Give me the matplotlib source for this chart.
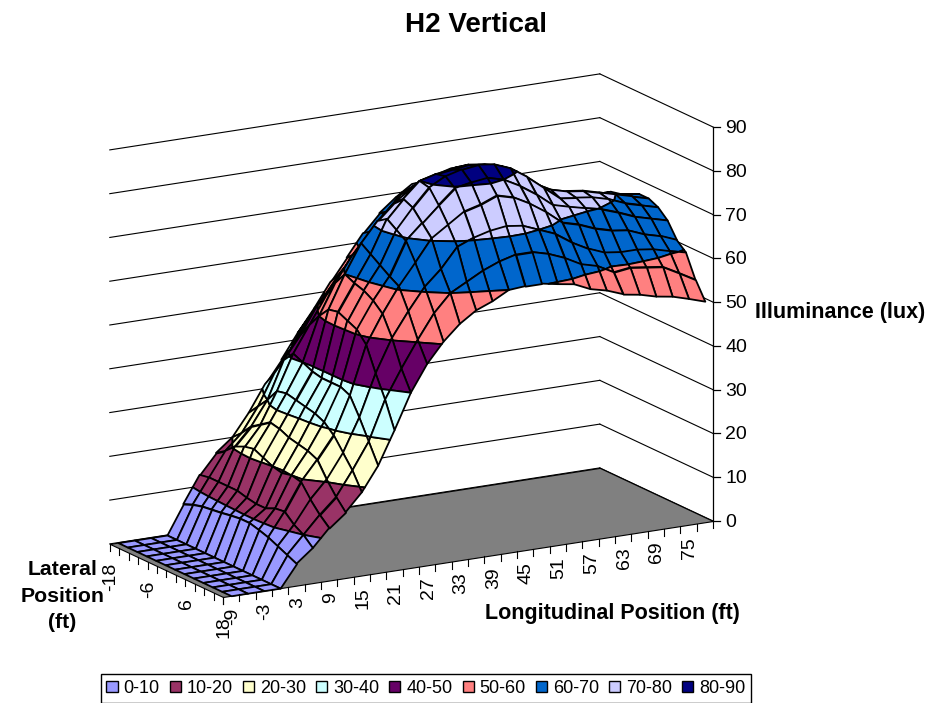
import matplotlib
matplotlib.use('Agg')
import matplotlib.pyplot as plt
from matplotlib.lines import Line2D
from matplotlib.patches import Patch
from mpl_toolkits.mplot3d import proj3d
from mpl_toolkits.mplot3d.art3d import Poly3DCollection
import numpy as np

plt.rcParams['font.family'] = ['Liberation Sans', 'DejaVu Sans']

long_pos = [-9, -6, -3, 0, 3, 6, 9, 12, 15, 18, 21, 24, 27, 30, 33, 36, 39, 42, 45, 48, 51, 54, 57, 60, 63, 66, 69, 72, 75, 78]
lat_pos = [18, 15, 12, 9, 6, 3, 0, -3, -6, -9, -12, -15, -18]
z_ticks = [0, 10, 20, 30, 40, 50, 60, 70, 80, 90]
band_labels = ['0-10', '10-20', '20-30', '30-40', '40-50', '50-60', '60-70', '70-80', '80-90']
band_colors = ['#9999FF', '#993366', '#FFFFCC', '#CCFFFF', '#660066', '#FF8080', '#0066CC', '#CCCCFF', '#000080']

# one row per longitudinal position, columns follow lat_pos
illuminance = [
    [0, 0, 0, 0, 0, 0, 0, 0, 0, 0, 0, 0, 0],
    [0, 0, 0, 0, 0, 0, 0, 0, 0, 0, 0, 0, 0],
    [0, 0, 0, 0, 0, 0, 0, 0, 0, 0, 0, 0, 0],
    [0, 0, 0, 0, 0, 0, 0, 0, 0, 0, 0, 0, 0],
    [5, 6, 7, 8, 8.7, 9.3, 9.3, 9, 8.6, 8.3, 8, 7.4, 6.5],
    [8, 10, 11.3, 13.3, 13, 12, 12, 12.4, 13, 13, 13, 13, 12.6],
    [12, 14, 16.5, 19.5, 20, 19.5, 20, 21, 22, 21.5, 20.5, 18.5, 17],
    [15, 17.5, 20.5, 24, 25, 25.5, 26, 27, 27.5, 26, 24.5, 22, 20],
    [19, 23, 26, 29, 31, 32, 32.5, 33, 33.5, 33, 30, 27.5, 25],
    [24.5, 29, 33.5, 37.5, 38.5, 38.5, 38.5, 39, 40, 41, 38.5, 34.5, 31],
    [32, 38, 43, 48.5, 51, 52, 53, 52.5, 50, 47, 43.5, 39.5, 36],
    [40, 44.5, 50.5, 55, 57, 58.3, 59, 60, 57, 53, 49.5, 45.5, 41.5],
    [46, 50.5, 56, 60.7, 62, 63.5, 65, 66.5, 62.5, 58, 54, 50, 46.5],
    [50.5, 56, 61, 65.5, 69.5, 71, 72.5, 71, 66.5, 62.5, 58.5, 55, 52],
    [54, 60, 64.5, 70.5, 73, 75.5, 76.5, 74.5, 71, 67, 62.5, 59, 57],
    [56.5, 62, 69, 73, 76.5, 79.5, 80, 77, 75, 71, 67, 63.5, 62],
    [58, 64, 70.5, 75.5, 79.8, 81.5, 81, 78.5, 77, 74.5, 71, 67.5, 66],
    [60, 65.5, 71.5, 76.5, 80.5, 82.5, 81.5, 79.5, 78, 76, 73.5, 70, 69],
    [60.3, 66.5, 72, 78, 81, 83, 82, 80.5, 79, 77, 75, 73, 71.5],
    [60.3, 66.5, 71.5, 77, 80, 82.5, 81.5, 80, 78.5, 76.5, 75, 73.5, 72],
    [59.6, 65.5, 70, 75, 78, 81, 80.5, 78.5, 76.5, 75, 74, 73, 72],
    [59, 64, 68.5, 72.5, 75.5, 78.5, 78, 76, 74.5, 73, 72.5, 72, 71.5],
    [57.3, 62, 66, 69.5, 72.5, 75.5, 75.5, 74, 72.5, 71.5, 71, 70.5, 70],
    [56.4, 61, 64, 68.5, 71.5, 72.5, 73.5, 72, 71, 70, 69, 68.5, 68.5],
    [55, 59, 62.5, 67, 70.6, 72, 72.5, 70.5, 69.5, 68.5, 67.5, 67, 68],
    [54.4, 59.5, 62, 66, 69.8, 71.5, 72, 70, 69, 68, 67, 66, 66],
    [53.4, 59, 62, 65.5, 68.5, 70.5, 71, 69.5, 68.5, 67.5, 66.5, 65.5, 65],
    [52.8, 58.5, 61.5, 64, 67, 69, 70, 69, 68, 67, 66, 65, 64],
    [51.7, 56.5, 60.5, 63, 66, 68, 69, 68.5, 67.5, 66.5, 65.5, 64.5, 63.5],
    [50.5, 54.4, 59.6, 61.5, 65, 67, 68, 68, 67, 66, 65.5, 64, 63],
]

W, H = 947, 703
fig = plt.figure(figsize=(W / 100, H / 100), dpi=100)
ax = fig.add_axes([0, 0, 1, 1], projection='3d', computed_zorder=False)
ax.set_axis_off()
ax.set_proj_type('ortho')
ax.view_init(elev=15.65, azim=-119.9)
ax.set_box_aspect((565, 227, 409))

step = long_pos[1] - long_pos[0]
x0, x1 = long_pos[0] - step / 2, long_pos[-1] + step / 2
y_front, y_back = lat_pos[0], lat_pos[-1]
ax.set_xlim(x0, x1)
ax.set_ylim(y_front, y_back)
ax.set_zlim(0, z_ticks[-1])


def screen(x, y, z):
    xp, yp, _ = proj3d.proj_transform(x, y, z, ax.get_proj())
    return ax.transData.transform((xp, yp))


# move the axes so the floor lands where the original has it
fig.canvas.draw()
a, b = screen(x0, y_front, 0), screen(x1, y_front, 0)
side = (713 - 223) / (b[0] - a[0]) * 703
ax.set_position([0, 0, side / W, side / H])
fig.canvas.draw()
a = screen(x0, y_front, 0)
ax.set_position([(223 - a[0]) / W, (H - 597 - a[1]) / H, side / W, side / H])
fig.canvas.draw()


def clip(poly, level, keep_above):
    out = []
    for p, q in zip(poly, poly[1:] + poly[:1]):
        p_in = p[2] >= level if keep_above else p[2] <= level
        q_in = q[2] >= level if keep_above else q[2] <= level
        if p_in:
            out.append(p)
        if p_in != q_in:
            t = (level - p[2]) / (q[2] - p[2])
            out.append(tuple(p[k] + t * (q[k] - p[k]) for k in range(3)))
    return out


# walls
for z in z_ticks:
    ax.plot([x0, x1], [y_back, y_back], [z, z], color='black', lw=0.8, zorder=1)
    ax.plot([x1, x1], [y_back, y_front], [z, z], color='black', lw=0.8, zorder=1)
ax.plot([x1, x1], [y_front, y_front], [0, z_ticks[-1]], color='black', lw=0.9, zorder=1)

floor = [(x0, y_front, 0), (x1, y_front, 0), (x1, y_back, 0), (x0, y_back, 0)]
ax.add_collection3d(Poly3DCollection([floor], facecolors='#808080', edgecolors='black', linewidths=0.8, zorder=2), autolim=False)

# cells back to front, split at the band limits
Z = np.array(illuminance, dtype=float)
order = 3
for i in range(len(long_pos) - 2, -1, -1):
    for j in range(len(lat_pos) - 2, -1, -1):
        cell = [(long_pos[i], lat_pos[j], Z[i, j]), (long_pos[i + 1], lat_pos[j], Z[i + 1, j]),
                (long_pos[i + 1], lat_pos[j + 1], Z[i + 1, j + 1]), (long_pos[i], lat_pos[j + 1], Z[i, j + 1])]
        polys, colors = [], []
        for k, color in enumerate(band_colors):
            part = clip(cell, z_ticks[k], True)
            part = clip(part, z_ticks[k + 1], False) if len(part) else part
            if len(part) >= 3:
                polys.append(part)
                colors.append(color)
        ax.add_collection3d(Poly3DCollection(polys, facecolors=colors, edgecolors='black', linewidths=1.3, zorder=order), autolim=False)
        order += 1

# axis ticks and labels
edges = [x0 + step * k for k in range(len(long_pos) + 1)]
for x in edges:
    ax.plot([x, x], [y_front, y_front], [0, -1.6], color='black', lw=0.8, zorder=order)
for y in lat_pos:
    ax.plot([x0, x0], [y, y], [0, -1.6], color='black', lw=0.8, zorder=order)


def put_text(px, py, s, **kw):
    fig.text(px / W, py / H, s, **kw)


for x in long_pos[::2]:
    p = screen(x, y_front, 0)
    put_text(p[0] + 1, p[1] - 12, str(x), rotation=90, ha='center', va='top', fontsize=14)
for y in lat_pos[::4]:
    p = screen(x0, y, 0)
    put_text(p[0] + 1, p[1] - 19, str(y), rotation=90, ha='center', va='top', fontsize=14)
for z in z_ticks:
    p = screen(x1, y_front, z)
    fig.add_artist(Line2D([p[0] / W, (p[0] + 7) / W], [p[1] / H, p[1] / H], color='black', lw=0.9))
    put_text(p[0] + 12, p[1] - 1.5, str(z), ha='left', va='center', fontsize=14)

fig.text(476 / W, 1 - 25 / H, 'H2 Vertical', ha='center', va='center', fontsize=20, fontweight='bold')
fig.text(840 / W, 1 - 312 / H, 'Illuminance (lux)', ha='center', va='center', fontsize=15.5, fontweight='bold')
fig.text(612 / W, 1 - 614 / H, 'Longitudinal Position (ft)', ha='center', va='center', fontsize=15.5, fontweight='bold')
fig.text(62.5 / W, 1 - 596 / H, 'Lateral\nPosition\n(ft)', ha='center', va='center', fontsize=15.3, fontweight='bold', linespacing=1.5)

handles = [Patch(facecolor=c, edgecolor='black', linewidth=1) for c in band_colors]
leg = fig.legend(handles, band_labels, loc='center', bbox_to_anchor=(426 / W, 1 - 688.5 / H), ncol=9, fontsize=13,
                 fancybox=False, framealpha=1, edgecolor='black', handlelength=0.62, handleheight=0.62,
                 handletextpad=0.33, columnspacing=0.55, borderpad=0.33, borderaxespad=0)
leg.get_frame().set_linewidth(1)

plt.savefig('out.png', dpi=100)
